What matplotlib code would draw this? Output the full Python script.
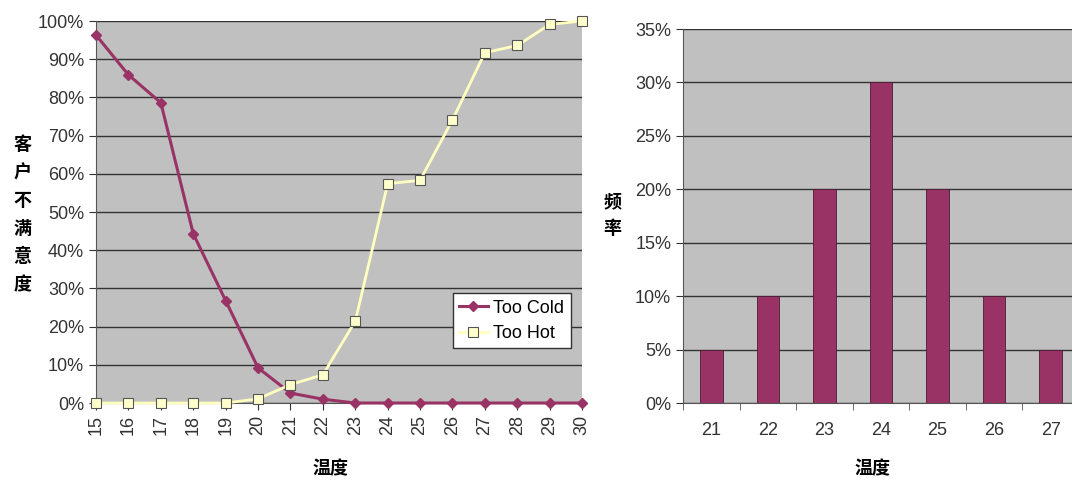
import numpy as np
import matplotlib
matplotlib.use("Agg")
import matplotlib.pyplot as plt
from matplotlib.ticker import PercentFormatter

plt.rcParams['font.family'] = ['Liberation Sans', 'Noto Sans CJK SC', 'DejaVu Sans']

# temperature vs. share of unhappy customers
temps = list(range(15, 31))
too_cold = [96.3, 85.9, 78.6, 44.3, 26.8, 9.2, 2.6, 1.0, 0, 0, 0, 0, 0, 0, 0, 0]
too_hot = [0, 0, 0, 0, 0, 1.1, 4.8, 7.4, 21.4, 57.4, 58.3, 74.1, 91.7, 93.6, 99.1, 100]

# frequency of set temperatures
freq_temps = ['21', '22', '23', '24', '25', '26', '27']
freq_vals = [5, 10, 20, 30, 20, 10, 5]

plum = '#993366'
bg = '#c0c0c0'
grid_c = '#333333'
tick_c = '#333333'
cjk = ['Noto Sans CJK SC']

fig = plt.figure(figsize=(10.72, 4.83), dpi=100)

# left: dissatisfaction curves
ax1 = fig.add_axes([0.0896, 0.1656, 0.4534, 0.7909])
ax1.set_facecolor(bg)
ax1.plot(temps, too_cold, color=plum, lw=2.2, marker='D', ms=5,
         mfc=plum, mec=plum, label='Too Cold', zorder=3, clip_on=False)
ax1.plot(temps, too_hot, color='#ffffc0', lw=2.0, marker='s', ms=7,
         mfc='#ffffcc', mec='#555555', mew=0.8, label='Too Hot', zorder=3,
         clip_on=False)
ax1.set_xlim(15, 30)
ax1.set_ylim(0, 100)
ax1.set_xticks(temps)
ax1.set_yticks(np.arange(0, 101, 10))
ax1.yaxis.set_major_formatter(PercentFormatter(decimals=0))
ax1.tick_params(axis='x', labelrotation=90, labelsize=13, colors=tick_c, length=5)
ax1.tick_params(axis='y', labelsize=13, colors=tick_c, length=5)
ax1.grid(axis='y', color=grid_c, lw=1.0)
ax1.set_axisbelow(True)
for s in ['top', 'right']:
    ax1.spines[s].set_visible(False)
for s in ['left', 'bottom']:
    ax1.spines[s].set_color('#555555')
leg = ax1.legend(loc='lower right', bbox_to_anchor=(0.995, 0.12), fontsize=13,
                 frameon=True, fancybox=False, edgecolor='#333333',
                 handlelength=1.6, handletextpad=0.3, borderpad=0.35,
                 labelspacing=0.45, framealpha=1)
leg.get_frame().set_linewidth(1.0)
fig.text(0.021, 0.555, '客\n户\n不\n满\n意\n度', family=cjk, fontsize=13,
         fontweight='bold', ha='center', va='center', linespacing=1.6)
fig.text(0.308, 0.03, '温度', family=cjk, fontsize=13, fontweight='bold',
         ha='center', va='center')

# right: frequency histogram
ax2 = fig.add_axes([0.6371, 0.1656, 0.3694, 0.7743])
ax2.set_facecolor(bg)
x = np.arange(len(freq_temps))
ax2.bar(x, freq_vals, width=0.4, color=plum, edgecolor='#4d1a33', lw=0.6, zorder=3)
ax2.set_xlim(-0.5, len(freq_temps) - 0.5)
ax2.set_ylim(0, 35)
ax2.set_yticks(np.arange(0, 36, 5))
ax2.yaxis.set_major_formatter(PercentFormatter(decimals=0))
ax2.set_xticks(x)
ax2.set_xticklabels(freq_temps)
ax2.set_xticks(np.arange(-0.5, len(freq_temps)), minor=True)
ax2.tick_params(axis='x', which='major', length=0, pad=14, labelsize=13, colors=tick_c)
ax2.tick_params(axis='x', which='minor', length=5, color='#555555')
ax2.tick_params(axis='y', labelsize=13, colors=tick_c, length=5)
ax2.grid(axis='y', color=grid_c, lw=1.0)
ax2.set_axisbelow(True)
for s in ['top', 'right']:
    ax2.spines[s].set_visible(False)
for s in ['left', 'bottom']:
    ax2.spines[s].set_color('#555555')
fig.text(0.571, 0.555, '频\n率', family=cjk, fontsize=13, fontweight='bold',
         ha='center', va='center', linespacing=1.5)
fig.text(0.814, 0.03, '温度', family=cjk, fontsize=13, fontweight='bold',
         ha='center', va='center')

fig.savefig('out.png', dpi=100, facecolor='white')
